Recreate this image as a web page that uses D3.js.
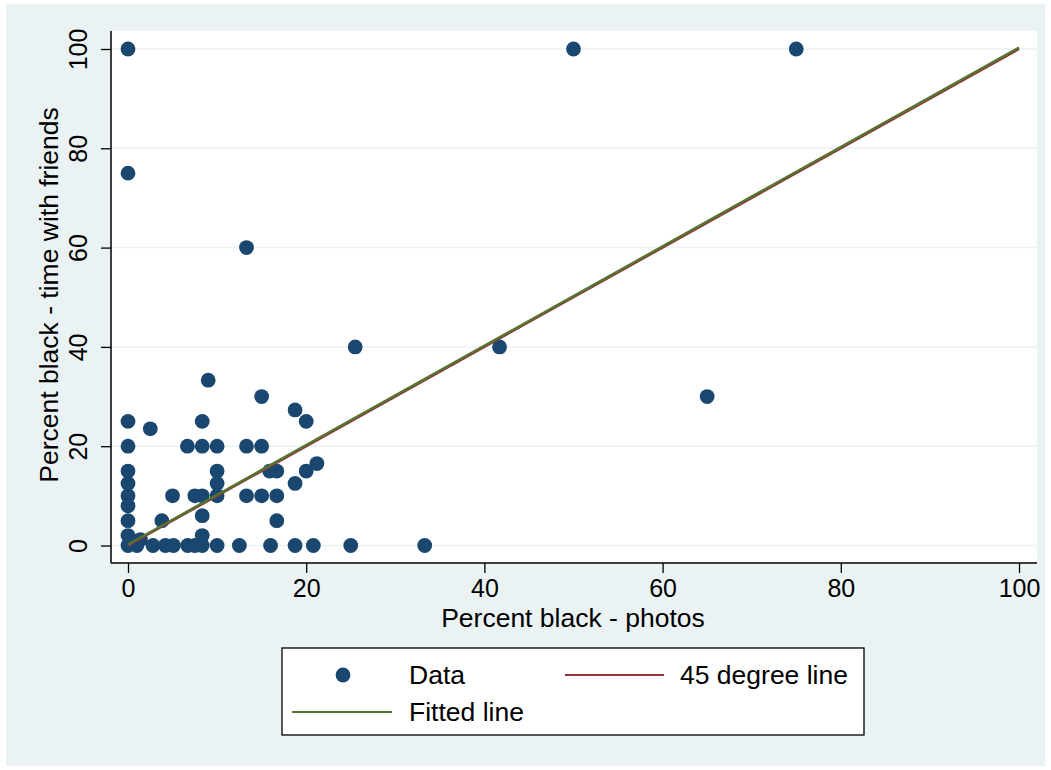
<!DOCTYPE html>
<html>
<head>
<meta charset="utf-8">
<script src="https://cdn.jsdelivr.net/npm/d3@7"></script>
<style>
  body { margin: 0; background: #fff; }
  text { font-family: "Liberation Sans", Arial, Helvetica, sans-serif; fill: #000; }
</style>
</head>
<body>
<svg id="chart" width="1051" height="770"></svg>
<script>
// percent black in photos (x) and in time with friends (y)
const photosPct = [0, 0, 50, 75, 13.3, 25.5, 41.7, 65,
  9, 15, 18.75, 20, 0, 8.33, 2.5,
  0, 6.67, 8.33, 10, 13.3, 15,
  21.2, 0, 10, 15.9, 16.7, 20,
  0, 10, 18.75,
  0, 5, 7.5, 8.33, 10, 13.3, 15, 16.7,
  0, 0, 3.8, 8.33, 16.7,
  0, 8.33, 1.4,
  0, 1, 2.8, 4.2, 5.1, 6.7, 7.5, 8.33, 10, 12.5, 16, 18.75, 20.8, 25, 33.3];
const friendsPct = [100, 75, 100, 100, 60, 40, 40, 30,
  33.3, 30, 27.3, 25, 25, 25, 23.5,
  20, 20, 20, 20, 20, 20,
  16.5, 15, 15, 15, 15, 15,
  12.5, 12.5, 12.5,
  10, 10, 10, 10, 10, 10, 10, 10,
  8, 5, 5, 6, 5,
  2, 2, 1.2,
  0, 0, 0, 0, 0, 0, 0, 0, 0, 0, 0, 0, 0, 0, 0];

const lineX = [0, 100];
const diagY = [0, 100];
const fitY = [0.2, 100.3];

const xTicks = [0, 20, 40, 60, 80, 100];
const yTicks = [0, 20, 40, 60, 80, 100];

const points = photosPct.map((d, i) => ({ x: d, y: friendsPct[i] }));

const navy = "#1a476f", maroon = "#90353b", green = "#55752f", bg = "#eaf2f3";
const plot = { left: 111, right: 1037, top: 31, bottom: 563 };

const svg = d3.select("#chart");
svg.append("rect").attr("x", 6).attr("y", 4).attr("width", 1039).attr("height", 762).attr("fill", bg);
svg.append("rect").attr("x", plot.left).attr("y", plot.top)
  .attr("width", plot.right - plot.left).attr("height", plot.bottom - plot.top).attr("fill", "#fff");

const x = d3.scaleLinear().domain([0, 100]).range([128, 1019]);
const y = d3.scaleLinear().domain([0, 100]).range([545.5, 49]);

// grid
svg.append("g").selectAll("line").data(yTicks).join("line")
  .attr("x1", plot.left).attr("x2", plot.right)
  .attr("y1", d => y(d)).attr("y2", d => y(d))
  .attr("stroke", bg).attr("stroke-width", 1.5);

// axes
const xAxis = svg.append("g").attr("transform", `translate(0,${plot.bottom})`)
  .call(d3.axisBottom(x).tickValues(xTicks).tickSize(10).tickPadding(6));
const yAxis = svg.append("g").attr("transform", `translate(${plot.left},0)`)
  .call(d3.axisLeft(y).tickValues(yTicks).tickSize(10).tickPadding(6));
[xAxis, yAxis].forEach(g => {
  g.select(".domain").remove();
  g.selectAll(".tick line").attr("stroke", "#000").attr("stroke-width", 1.3);
  g.selectAll(".tick text").attr("font-size", 25).attr("font-family", "Liberation Sans, Arial, sans-serif").attr("fill", "#000");
});
yAxis.selectAll(".tick text")
  .attr("text-anchor", "middle").attr("x", 0).attr("dy", 0)
  .attr("transform", "translate(-24,0) rotate(-90)");

svg.append("line").attr("x1", plot.left).attr("x2", plot.right).attr("y1", plot.bottom).attr("y2", plot.bottom)
  .attr("stroke", "#000").attr("stroke-width", 1.5);
svg.append("line").attr("x1", plot.left).attr("x2", plot.left).attr("y1", plot.top).attr("y2", plot.bottom)
  .attr("stroke", "#000").attr("stroke-width", 1.5);

// points
svg.append("g").selectAll("circle").data(points).join("circle")
  .attr("cx", d => x(d.x)).attr("cy", d => y(d.y)).attr("r", 7.4).attr("fill", navy);

// lines
const line = d3.line().x(d => x(d[0])).y(d => y(d[1]));
svg.append("path").datum(lineX.map((d, i) => [d, diagY[i]])).attr("d", line)
  .attr("fill", "none").attr("stroke", maroon).attr("stroke-width", 2.4);
svg.append("path").datum(lineX.map((d, i) => [d, fitY[i]])).attr("d", line)
  .attr("fill", "none").attr("stroke", green).attr("stroke-width", 2.4);

// titles
svg.append("text").attr("x", (plot.left + plot.right) / 2 - 1).attr("y", 627)
  .attr("text-anchor", "middle").attr("font-size", 26.5).text("Percent black - photos");
svg.append("text").attr("transform", `translate(58,${(plot.top + plot.bottom) / 2 - 2}) rotate(-90)`)
  .attr("text-anchor", "middle").attr("font-size", 26.5).text("Percent black - time with friends");

// legend
const legend = svg.append("g");
legend.append("rect").attr("x", 282).attr("y", 648).attr("width", 582).attr("height", 87)
  .attr("fill", "#fff").attr("stroke", "#000").attr("stroke-width", 1.3);
legend.append("circle").attr("cx", 343).attr("cy", 675).attr("r", 7.4).attr("fill", navy);
legend.append("text").attr("x", 409).attr("y", 684).attr("font-size", 26.5).text("Data");
legend.append("line").attr("x1", 565).attr("x2", 664).attr("y1", 675).attr("y2", 675)
  .attr("stroke", maroon).attr("stroke-width", 2.2);
legend.append("text").attr("x", 680).attr("y", 684).attr("font-size", 26.5).text("45 degree line");
legend.append("line").attr("x1", 292).attr("x2", 392).attr("y1", 712).attr("y2", 712)
  .attr("stroke", green).attr("stroke-width", 2.2);
legend.append("text").attr("x", 409).attr("y", 721).attr("font-size", 26.5).text("Fitted line");
</script>
</body>
</html>
